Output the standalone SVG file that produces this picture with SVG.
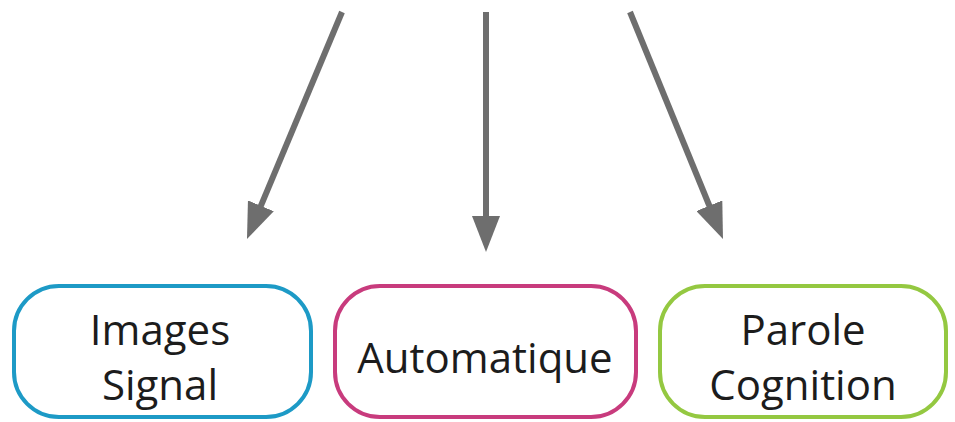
<svg xmlns="http://www.w3.org/2000/svg" width="955" height="422" viewBox="0 0 955 422">
<style>
.box{fill:#fff;stroke-width:4}
.lbl{font-family:"Open Sans","Lato",sans-serif;font-size:42px;fill:#1c1c1c;text-anchor:middle}
.conn{stroke:#6e6e6e;stroke-width:6;fill:none}
</style>
<defs>
<marker id="ah" viewBox="0 0 36 28" refX="16" refY="14" markerWidth="36" markerHeight="28" markerUnits="userSpaceOnUse" orient="auto">
<path d="M0,0 L36,14 L0,28 z" fill="#6e6e6e"/>
</marker>
</defs>
<rect width="955" height="422" fill="#fff"/>
<g id="connectors">
<line class="conn" x1="342" y1="12" x2="254.7" y2="220.6" marker-end="url(#ah)"/>
<line class="conn" x1="486" y1="12" x2="486" y2="232" marker-end="url(#ah)"/>
<line class="conn" x1="630" y1="12" x2="715.4" y2="220.5" marker-end="url(#ah)"/>
</g>
<g id="node-images">
<rect class="box" x="14" y="286" width="297" height="131" rx="45" stroke="#1d9ac6"/>
<text class="lbl" x="160" y="345">Images</text>
<text class="lbl" x="160" y="400">Signal</text>
</g>
<g id="node-automatique">
<rect class="box" x="335" y="286" width="301" height="131" rx="45" stroke="#c83b7d"/>
<text class="lbl" x="485" y="373">Automatique</text>
</g>
<g id="node-parole">
<rect class="box" x="660" y="286" width="286" height="131" rx="45" stroke="#94c841"/>
<text class="lbl" x="803" y="345">Parole</text>
<text class="lbl" x="803" y="400">Cognition</text>
</g>
</svg>
